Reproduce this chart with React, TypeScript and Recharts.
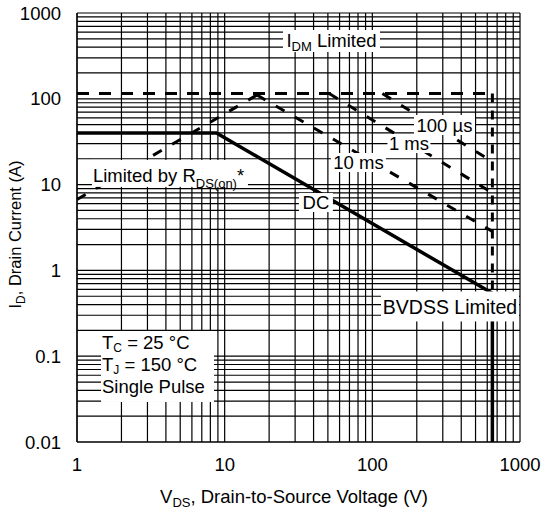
import React from 'react';
import { ComposedChart, Line, XAxis, YAxis, CartesianGrid, ReferenceDot } from 'recharts';

const FONT = '"Liberation Sans", Arial, sans-serif';

// log grid: decade starts and mantissas
const decadesX = [1, 10, 100];
const decadesY = [0.01, 0.1, 1, 10, 100];
const mantissas = [1, 2, 3, 4, 5, 6, 7, 8, 9];
const gridX = [...decadesX.flatMap((d) => mantissas.map((m) => +(m * d).toPrecision(3))), 1000];
const gridY = [...decadesY.flatMap((d) => mantissas.map((m) => +(m * d).toPrecision(3))), 1000];
const xTickLabels = [1, 10, 100, 1000];
const yTickLabels = [0.01, 0.1, 1, 10, 100, 1000];

// curves: VDS (V) vs ID (A)
const dcV = [1, 8.8, 650];
const dcI = [40, 40, 0.54];
const rdsV = [1, 17.2];
const rdsI = [6.7, 115];
const idmV = [1, 650];
const idmI = [115, 115];
const us100V = [117, 650];
const us100I = [115, 18.5];
const ms1V = [51, 650];
const ms1I = [115, 8.0];
const ms10V = [16.5, 650];
const ms10I = [111, 2.85];
const bvDashV = [650, 650];
const bvDashI = [115, 0.54];
const bvSolidV = [650, 650];
const bvSolidI = [0.54, 0.01];

const pts = (v: number[], i: number[]) => v.map((x, k) => ({ v: x, i: i[k] }));

const FS = 18.5;
const SUB = 13;

const XTick = (props: any) => {
  const { x, y, payload } = props;
  if (!xTickLabels.includes(payload.value)) return <g />;
  return (
    <text x={x} y={y} dy="0.71em" textAnchor="middle" fontSize={FS} fontFamily={FONT} fill="#000">
      {payload.value}
    </text>
  );
};

const YTick = (props: any) => {
  const { x, y, payload } = props;
  if (!yTickLabels.includes(payload.value)) return <g />;
  return (
    <text x={x} y={y} dy="0.355em" textAnchor="end" fontSize={FS} fontFamily={FONT} fill="#000">
      {payload.value}
    </text>
  );
};

const XTitle = () => (
  <text x={294} y={503} textAnchor="middle" fontSize={FS} fontFamily={FONT} fill="#000">
    V<tspan fontSize={SUB} dy={4}>DS</tspan>
    <tspan dy={-4}>, Drain-to-Source Voltage (V)</tspan>
  </text>
);

const YTitle = () => (
  <text
    x={20.7}
    y={234.5}
    transform="rotate(-90 20.7 234.5)"
    textAnchor="middle"
    fontSize={16.5}
    fontFamily={FONT}
    fill="#000"
  >
    I<tspan fontSize={12} dy={4}>D</tspan>
    <tspan dy={-4}>, Drain Current (A)</tspan>
  </text>
);

const box = (w: number, h: number, render: (cx: number, cy: number) => React.ReactNode) => (p: any) => {
  const { cx, cy } = p;
  if (cx == null || cy == null) return <g />;
  return (
    <g>
      <rect x={cx - w / 2} y={cy - h / 2} width={w} height={h} fill="#fff" />
      {render(cx, cy)}
    </g>
  );
};

const txt = { fontSize: FS, fontFamily: FONT, fill: '#000' } as const;

const idmLabel = box(97, 22, (cx, cy) => (
  <text x={cx} y={cy + 6.5} textAnchor="middle" {...txt}>
    I<tspan fontSize={SUB} dy={4}>DM</tspan>
    <tspan dy={-4}> Limited</tspan>
  </text>
));
const us100Label = box(61, 20, (cx, cy) => (
  <text x={cx} y={cy + 6.5} textAnchor="middle" {...txt}>100 µs</text>
));
const ms1Label = box(43, 19, (cx, cy) => (
  <text x={cx} y={cy + 6.5} textAnchor="middle" {...txt}>1 ms</text>
));
const ms10Label = box(55, 19, (cx, cy) => (
  <text x={cx} y={cy + 6.5} textAnchor="middle" {...txt}>10 ms</text>
));
const dcLabel = box(34, 19, (cx, cy) => (
  <text x={cx} y={cy + 6.5} textAnchor="middle" {...txt}>DC</text>
));
const rdsLabel = box(156, 27, (cx, cy) => (
  <text x={cx - 77} y={cy + 8.5} textAnchor="start" {...txt}>
    Limited by R<tspan fontSize={SUB} dy={6}>DS(on)</tspan>
    <tspan dy={-6}>*</tspan>
  </text>
));
const bvLabel = box(138, 30, (cx, cy) => (
  <text x={cx} y={cy + 7.5} textAnchor="middle" {...txt} fontSize={19.5}>BVDSS Limited</text>
));
const condLabel = box(113, 71, (cx, cy) => (
  <g>
    <text x={cx - 55.5} y={cy - 17} {...txt}>
      T<tspan fontSize={12} dy={2.5}>C</tspan>
      <tspan dy={-2.5}> = 25 °C</tspan>
    </text>
    <text x={cx - 55.5} y={cy + 5} {...txt}>
      T<tspan fontSize={12} dy={2.5}>J</tspan>
      <tspan dy={-2.5}> = 150 °C</tspan>
    </text>
    <text x={cx - 55.5} y={cy + 27} {...txt}>Single Pulse</text>
  </g>
));

// label anchors (box centres) in data coordinates
const labelAnchors = [
  { v: 52.9, i: 472, shape: idmLabel },
  { v: 308, i: 49.5, shape: us100Label },
  { v: 177, i: 30.1, shape: ms1Label },
  { v: 80.6, i: 18.1, shape: ms10Label },
  { v: 41.5, i: 6.18, shape: dcLabel },
  { v: 4.26, i: 13.5, shape: rdsLabel },
  { v: 335.7, i: 0.38, shape: bvLabel },
  { v: 3.51, i: 0.0759, shape: condLabel },
];

const lineCommon = { type: 'linear' as const, dataKey: 'i', stroke: '#000', dot: false, activeDot: false, isAnimationActive: false };

export default function App() {
  return (
    <div style={{ position: 'absolute', left: 0, top: 0 }}>
      <ComposedChart width={544} height={509} margin={{ top: 13, right: 24, bottom: 7, left: 0 }}>
        <CartesianGrid stroke="#000" strokeWidth={1.2} />
        <XAxis
          dataKey="v"
          type="number"
          scale="log"
          domain={[1, 1000]}
          ticks={gridX}
          interval={0}
          tick={XTick}
          tickSize={0}
          tickMargin={16}
          tickLine={false}
          axisLine={{ stroke: '#000', strokeWidth: 1.2 }}
          height={60}
          allowDataOverflow
          label={XTitle}
        />
        <YAxis
          dataKey="i"
          type="number"
          scale="log"
          domain={[0.01, 1000]}
          ticks={gridY}
          interval={0}
          tick={YTick}
          tickSize={0}
          tickMargin={16}
          tickLine={false}
          axisLine={{ stroke: '#000', strokeWidth: 1.2 }}
          width={77}
          allowDataOverflow
          label={YTitle}
        />
        <Line {...lineCommon} data={pts(idmV, idmI)} strokeWidth={3} strokeDasharray="12 10" />
        <Line {...lineCommon} data={pts(rdsV, rdsI)} strokeWidth={3} strokeDasharray="10 12" />
        <Line {...lineCommon} data={pts(us100V, us100I)} strokeWidth={3} strokeDasharray="10 12" />
        <Line {...lineCommon} data={pts(ms1V, ms1I)} strokeWidth={3} strokeDasharray="10 12" />
        <Line {...lineCommon} data={pts(ms10V, ms10I)} strokeWidth={3} strokeDasharray="10 12" />
        <Line {...lineCommon} data={pts(bvDashV, bvDashI)} strokeWidth={3} strokeDasharray="9 8" />
        <Line {...lineCommon} data={pts(bvSolidV, bvSolidI)} strokeWidth={3.5} />
        <Line {...lineCommon} data={pts(dcV, dcI)} strokeWidth={3.5} />
        {labelAnchors.map((a, k) => (
          <ReferenceDot key={k} x={a.v} y={a.i} r={0} shape={a.shape} ifOverflow="visible" />
        ))}
      </ComposedChart>
    </div>
  );
}
